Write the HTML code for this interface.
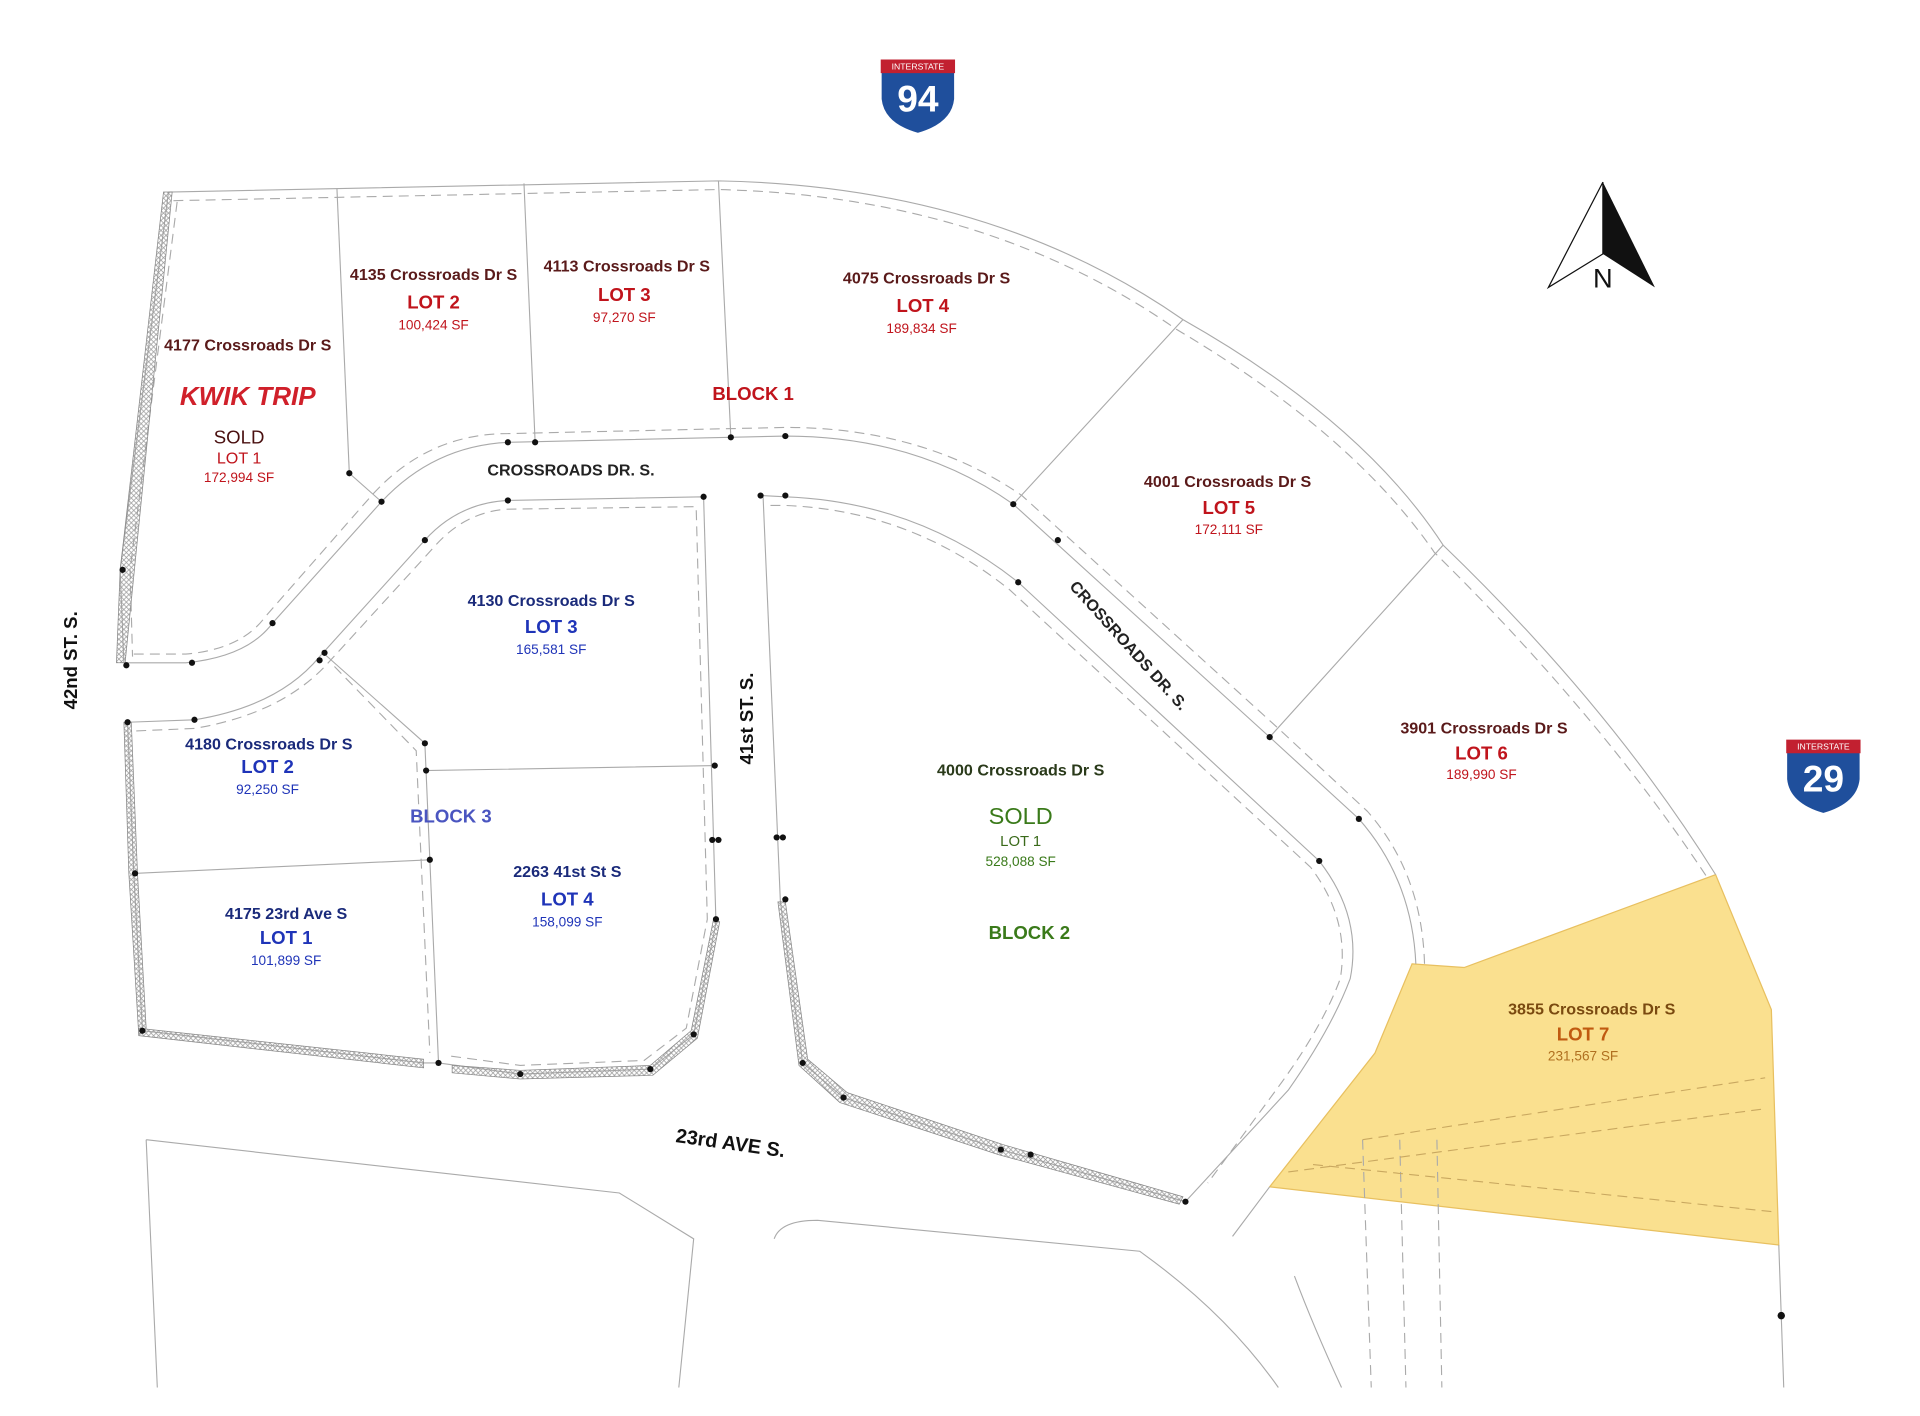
<!DOCTYPE html>
<html><head><meta charset="utf-8"><style>
html,body{margin:0;padding:0;background:#fff;width:1920px;height:1416px;overflow:hidden}
svg{display:block}
text{font-family:"Liberation Sans",sans-serif;text-anchor:middle}
</style></head><body>
<svg width="1920" height="1416" viewBox="0 0 1550 1143" preserveAspectRatio="none" xmlns="http://www.w3.org/2000/svg">
<defs>
<pattern id="hatch" width="4" height="4" patternUnits="userSpaceOnUse"><path d="M0 0L4 4M4 0L0 4" stroke="#999" stroke-width="0.6"/></pattern>
</defs>
<!-- yellow lot 7 -->
<polygon points="1140,778 1182,781 1385,706 1430,815 1436,1005 1025,958 1110,850" fill="#fae08f" stroke="#e8c060" stroke-width="1"/>
<g fill="none" stroke="#aaa" stroke-width="0.9">
<!-- north boundary -->
<path d="M136,155 L580,146 Q800,150 955,258 Q1100,340 1165,440 Q1300,570 1385,706"/>
<path d="M140,162 L580,153 Q795,158 950,266 Q1092,350 1158,446 Q1292,578 1378,708" stroke-dasharray="8,5"/>
<!-- 42nd st west -->
<path d="M136,155 L97,460 L100,535"/>
<path d="M143,163 L105,460 L107,530" stroke-dasharray="8,5"/>
<!-- crossroads north edge -->
<path d="M100,535 L150,535 Q200,530 220,503 L308,405 Q350,360 410,357 L634,352 Q740,352 818,407 L1025,595 L1097,661 Q1140,710 1143,778"/>
<path d="M108,528 L150,528 Q195,524 214,498 L300,400 Q345,350 410,350 L634,345 Q745,345 825,400 L1032,588 L1104,655 Q1148,705 1150,778" stroke-dasharray="8,5"/>
<!-- south edge / block3 -->
<path d="M103,583 L157,581 Q225,570 258,530 L343,436 Q370,406 410,404 L568,401 L578,745 L560,835 L525,863 L420,867 L354,858"/>
<path d="M110,590 L157,588 Q228,576 265,535 L350,442 Q375,413 410,411 L562,409 L571,742 L554,830 L520,856 L420,860 L360,852" stroke-dasharray="8,5"/>
<path d="M103,583 L108,705 L115,832 L342,858 L354,858"/>
<path d="M262,528 L343,600 L354,858"/>
<path d="M270,538 L336,606 L347,850" stroke-dasharray="8,5"/>
<path d="M343,622 L578,618 M108,705 L347,694"/>
<!-- block 2 -->
<path d="M614,400 L634,401 Q740,405 822,470 L1065,695 Q1100,740 1090,790 Q1075,830 1040,880 L957,970"/>
<path d="M622,408 L634,408 Q735,412 815,476 L1058,700 Q1090,742 1082,790 Q1068,828 1033,876 L975,955" stroke-dasharray="8,5"/>
<path d="M616,400 L630,728 L648,858 L681,886 L808,928 L957,970"/>
<!-- lot lines block 1 -->
<path d="M272,152 L282,382 L308,405 M423,148 L432,357 M580,146 L590,353 M955,258 L818,407 M1165,440 L1025,595"/>
<!-- south area -->
<path d="M118,920 L500,963 L560,1000 L548,1120 M118,920 L127,1120"/>
<path d="M625,1000 Q630,985 660,985 L920,1010 Q990,1060 1032,1120"/>
<path d="M995,998 L1025,958 M1436,1005 L1440,1120"/>
<path d="M1083,1120 Q1060,1070 1045,1030"/>
<path d="M1100,920 L1107,1120 M1130,920 L1135,1120 M1160,920 L1164,1120" stroke-dasharray="8,5"/>
<path d="M1040,946 L1425,895 M1100,920 L1425,870 M1060,940 L1430,978" stroke-dasharray="8,5" stroke="#c9a860"/>
</g>
<!-- hatched edges -->
<g fill="url(#hatch)" stroke="#888" stroke-width="0.6">
<polygon points="132,155 139,155 101,535 94,535 97,460"/>
<polygon points="100,583 106,583 111,705 118,830 112,835 104,705"/>
<polygon points="112,830 342,855 342,862 112,836"/>
<polygon points="365,860 420,864 525,860 558,832 576,742 581,744 563,838 527,868 420,871 365,866"/>
<polygon points="628,728 634,728 652,855 684,882 810,924 955,966 952,972 806,932 678,890 645,860"/>
</g>
<!-- dots -->
<g fill="#111">
<circle cx="99" cy="460" r="2.5"/><circle cx="102" cy="537" r="2.5"/><circle cx="155" cy="535" r="2.5"/><circle cx="220" cy="503" r="2.5"/>
<circle cx="282" cy="382" r="2.5"/><circle cx="308" cy="405" r="2.5"/><circle cx="410" cy="357" r="2.5"/><circle cx="432" cy="357" r="2.5"/>
<circle cx="590" cy="353" r="2.5"/><circle cx="634" cy="352" r="2.5"/><circle cx="343" cy="436" r="2.5"/><circle cx="410" cy="404" r="2.5"/>
<circle cx="568" cy="401" r="2.5"/><circle cx="614" cy="400" r="2.5"/><circle cx="634" cy="400" r="2.5"/><circle cx="818" cy="407" r="2.5"/>
<circle cx="854" cy="436" r="2.5"/><circle cx="822" cy="470" r="2.5"/><circle cx="1025" cy="595" r="2.5"/><circle cx="1097" cy="661" r="2.5"/>
<circle cx="1065" cy="695" r="2.5"/><circle cx="258" cy="533" r="2.5"/><circle cx="262" cy="527" r="2.5"/><circle cx="157" cy="581" r="2.5"/>
<circle cx="103" cy="583" r="2.5"/><circle cx="343" cy="600" r="2.5"/><circle cx="344" cy="622" r="2.5"/><circle cx="577" cy="618" r="2.5"/>
<circle cx="347" cy="694" r="2.5"/><circle cx="109" cy="705" r="2.5"/><circle cx="575" cy="678" r="2.5"/><circle cx="580" cy="678" r="2.5"/>
<circle cx="627" cy="676" r="2.5"/><circle cx="632" cy="676" r="2.5"/><circle cx="578" cy="742" r="2.5"/><circle cx="634" cy="726" r="2.5"/>
<circle cx="115" cy="832" r="2.5"/><circle cx="354" cy="858" r="2.5"/><circle cx="420" cy="867" r="2.5"/><circle cx="525" cy="863" r="2.5"/>
<circle cx="560" cy="835" r="2.5"/><circle cx="648" cy="858" r="2.5"/><circle cx="681" cy="886" r="2.5"/><circle cx="808" cy="928" r="2.5"/>
<circle cx="832" cy="932" r="2.5"/><circle cx="957" cy="970" r="2.5"/><circle cx="1438" cy="1062" r="3"/>
</g>
<!-- I-94 shield -->
<g transform="translate(741,78)">
<path d="M-30,-30 L30,-30 L30,2 Q28,22 0,30 Q-28,22 -30,2 Z" fill="#1f4f9c" stroke="#fff" stroke-width="1.5"/>
<path d="M-30,-30 L30,-30 L30,-19 L-30,-19 Z" fill="#c22030"/>
<text x="0" y="-22" font-size="7" fill="#fff">INTERSTATE</text>
<text x="0" y="12" font-size="30" font-weight="bold" fill="#fff">94</text>
</g>
<!-- I-29 shield -->
<g transform="translate(1472,627)">
<path d="M-30,-30 L30,-30 L30,2 Q28,22 0,30 Q-28,22 -30,2 Z" fill="#1f4f9c" stroke="#fff" stroke-width="1.5"/>
<path d="M-30,-30 L30,-30 L30,-19 L-30,-19 Z" fill="#c22030"/>
<text x="0" y="-22" font-size="7" fill="#fff">INTERSTATE</text>
<text x="0" y="12" font-size="30" font-weight="bold" fill="#fff">29</text>
</g>
<!-- north arrow -->
<polygon points="1294,147 1250,232 1294,205" fill="#fff" stroke="#111" stroke-width="1"/>
<polygon points="1294,147 1336,232 1294,205" fill="#111"/>
<text x="1294" y="232" font-size="22" fill="#111">N</text>
<!-- labels -->
<g fill="#5a1010">
<text x="200" y="283" font-size="13" font-weight="bold" fill="#5a1a1a">4177 Crossroads Dr S</text>
<text x="350" y="226" font-size="13" font-weight="bold" fill="#5a1a1a">4135 Crossroads Dr S</text>
<text x="506" y="219" font-size="13" font-weight="bold" fill="#5a1a1a">4113 Crossroads Dr S</text>
<text x="748" y="229" font-size="13" font-weight="bold" fill="#5a1a1a">4075 Crossroads Dr S</text>
<text x="991" y="393" font-size="13" font-weight="bold" fill="#5a1a1a">4001 Crossroads Dr S</text>
<text x="1198" y="592" font-size="13" font-weight="bold" fill="#5a1a1a">3901 Crossroads Dr S</text>
</g>
<g fill="#c0141c" font-weight="bold">
<text x="350" y="249" font-size="15">LOT 2</text>
<text x="504" y="243" font-size="15">LOT 3</text>
<text x="745" y="252" font-size="15">LOT 4</text>
<text x="992" y="415" font-size="15">LOT 5</text>
<text x="1196" y="613" font-size="15">LOT 6</text>
<text x="608" y="323" font-size="15">BLOCK 1</text>
</g>
<g fill="#c0141c" font-size="11">
<text x="350" y="266">100,424 SF</text>
<text x="504" y="260">97,270 SF</text>
<text x="744" y="269">189,834 SF</text>
<text x="992" y="431">172,111 SF</text>
<text x="1196" y="629">189,990 SF</text>
<text x="193" y="374" font-size="13">LOT 1</text>
<text x="193" y="389">172,994 SF</text>
</g>
<text x="200" y="327" font-size="21" font-weight="bold" font-style="italic" fill="#d0202a">KWIK TRIP</text>
<text x="193" y="358" font-size="15" fill="#4a1010">SOLD</text>
<g fill="#1a2a7a">
<text x="445" y="489" font-size="13" font-weight="bold">4130 Crossroads Dr S</text>
<text x="217" y="605" font-size="13" font-weight="bold">4180 Crossroads Dr S</text>
<text x="458" y="708" font-size="13" font-weight="bold">2263 41st St S</text>
<text x="231" y="742" font-size="13" font-weight="bold">4175 23rd Ave S</text>
</g>
<g fill="#1f34b8" font-weight="bold" font-size="15">
<text x="445" y="511">LOT 3</text><text x="216" y="624">LOT 2</text><text x="458" y="731">LOT 4</text><text x="231" y="762">LOT 1</text>
</g>
<text x="364" y="664" font-size="15" font-weight="bold" fill="#4a55c0">BLOCK 3</text>
<g fill="#1f34b8" font-size="11">
<text x="445" y="528">165,581 SF</text><text x="216" y="641">92,250 SF</text><text x="458" y="748">158,099 SF</text><text x="231" y="779">101,899 SF</text>
</g>
<text x="824" y="626" font-size="13" font-weight="bold" fill="#2a3a1a">4000 Crossroads Dr S</text>
<text x="824" y="665" font-size="19" fill="#3a7a1a">SOLD</text>
<text x="824" y="683" font-size="12" fill="#3a6a1a">LOT 1</text>
<text x="824" y="699" font-size="11" fill="#3a7a1a">528,088 SF</text>
<text x="831" y="758" font-size="15" font-weight="bold" fill="#3a7a1a">BLOCK 2</text>
<text x="1285" y="819" font-size="13" font-weight="bold" fill="#7a4a10">3855 Crossroads Dr S</text>
<text x="1278" y="840" font-size="15" font-weight="bold" fill="#c05a10">LOT 7</text>
<text x="1278" y="856" font-size="11" fill="#b07020">231,567 SF</text>
<!-- street labels -->
<text x="461" y="384" font-size="13" font-weight="bold" fill="#222">CROSSROADS DR. S.</text>
<text transform="translate(908,524) rotate(48)" font-size="13" font-weight="bold" fill="#222">CROSSROADS DR. S.</text>
<text transform="translate(608,580) rotate(-90)" font-size="15" font-weight="bold" fill="#111">41st ST. S.</text>
<text transform="translate(62,533) rotate(-90)" font-size="15" font-weight="bold" fill="#111">42nd ST. S.</text>
<text transform="translate(589,928) rotate(8)" font-size="16" font-weight="bold" fill="#111">23rd AVE S.</text>
</svg>
</body></html>
